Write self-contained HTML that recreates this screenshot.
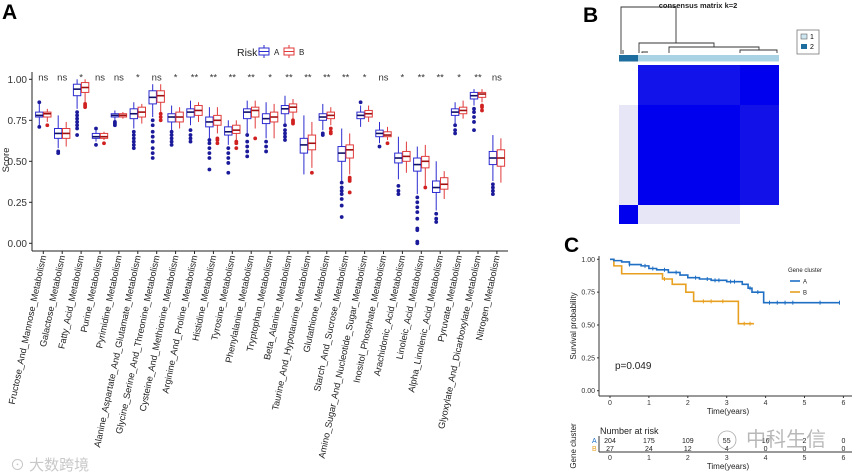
<!DOCTYPE html>
<html><head><meta charset="utf-8">
<style>
html,body{margin:0;padding:0;background:#fff;}
svg{display:block;font-family:"Liberation Sans","Noto Sans CJK SC",sans-serif;}
</style></head>
<body>
<svg id="fig" width="858" height="475" viewBox="0 0 858 475" xmlns="http://www.w3.org/2000/svg">
<g id="panelA">
<text x="2" y="19" font-size="21" font-weight="bold">A</text>
<g>
<text x="237" y="56" font-size="10.5" fill="#222">Risk</text>
<g><line x1="264" y1="45" x2="264" y2="58" stroke="#2b2bd0"/><rect x="259" y="48" width="10" height="7" fill="#fff" stroke="#2b2bd0"/><line x1="259" y1="51.5" x2="269" y2="51.5" stroke="#2b2bd0"/><text x="274" y="55" font-size="8" fill="#222">A</text></g>
<g><line x1="289" y1="45" x2="289" y2="58" stroke="#e03a3a"/><rect x="284" y="48" width="10" height="7" fill="#fff" stroke="#e03a3a"/><line x1="284" y1="51.5" x2="294" y2="51.5" stroke="#e03a3a"/><text x="299" y="55" font-size="8" fill="#222">B</text></g>
</g>
<text transform="translate(9,160) rotate(-90)" font-size="9.5" text-anchor="middle" fill="#222">Score</text>
<g id="aAxes"></g><g id="aMarks"></g>
</g>
<g id="panelB"></g>
<g id="panelC"></g>
<text x="10" y="470" font-size="15" fill="#c8c8c8">⊙ 大数跨境</text>
</svg>
<script>
// ---------- Panel A data ----------
const categories=["Fructose_And_Mannose_Metabolism","Galactose_Metabolism","Fatty_Acid_Metabolism","Purine_Metabolism","Pyrimidine_Metabolism","Alanine_Aspartate_And_Glutamate_Metabolism","Glycine_Serine_And_Threonine_Metabolism","Cysteine_And_Methionine_Metabolism","Arginine_And_Proline_Metabolism","Histidine_Metabolism","Tyrosine_Metabolism","Phenylalanine_Metabolism","Tryptophan_Metabolism","Beta_Alanine_Metabolism","Taurine_And_Hypotaurine_Metabolism","Glutathione_Metabolism","Starch_And_Sucrose_Metabolism","Amino_Sugar_And_Nucleotide_Sugar_Metabolism","Inositol_Phosphate_Metabolism","Arachidonic_Acid_Metabolism","Linoleic_Acid_Metabolism","Alpha_Linolenic_Acid_Metabolism","Pyruvate_Metabolism","Glyoxylate_And_Dicarboxylate_Metabolism","Nitrogen_Metabolism"];
const signif=["ns","ns","*","ns","ns","*","ns","*","**","**","**","**","*","**","**","**","**","*","ns","*","**","**","*","**","ns"];
// [low whisker, q1, median, q3, high whisker]
const statsA=[[.72,.77,.78,.80,.85],[.58,.64,.67,.70,.78],[.82,.90,.94,.97,1.0],[.62,.64,.65,.67,.69],[.75,.77,.78,.79,.81],[.70,.76,.79,.82,.86],[.77,.85,.89,.93,.97],[.69,.74,.77,.79,.84],[.72,.77,.80,.82,.87],[.64,.71,.74,.77,.83],[.60,.66,.68,.71,.75],[.67,.76,.80,.82,.87],[.64,.73,.76,.79,.86],[.73,.79,.82,.84,.90],[.42,.55,.60,.64,.78],[.69,.75,.77,.79,.85],[.38,.50,.55,.59,.70],[.71,.76,.78,.80,.84],[.61,.65,.67,.69,.74],[.39,.49,.52,.55,.65],[.30,.44,.48,.52,.59],[.20,.31,.34,.38,.50],[.73,.78,.80,.82,.86],[.84,.88,.90,.92,.94],[.38,.48,.52,.56,.66]];
const statsB=[[.74,.77,.79,.80,.82],[.59,.64,.67,.70,.74],[.86,.92,.95,.98,1.0],[.63,.64,.65,.67,.68],[.76,.77,.78,.79,.80],[.73,.77,.80,.83,.85],[.80,.86,.90,.93,.97],[.70,.74,.77,.80,.83],[.74,.78,.81,.84,.86],[.67,.72,.75,.78,.83],[.63,.67,.69,.72,.75],[.70,.77,.81,.83,.87],[.64,.74,.77,.80,.85],[.76,.80,.83,.85,.88],[.46,.57,.61,.66,.74],[.72,.76,.78,.80,.83],[.42,.52,.57,.60,.67],[.74,.77,.79,.81,.84],[.63,.65,.66,.68,.71],[.43,.50,.53,.56,.62],[.35,.46,.50,.53,.60],[.27,.33,.36,.40,.44],[.76,.79,.81,.83,.87],[.86,.89,.91,.92,.94],[.37,.47,.52,.57,.64]];
const outA=[[.86,.71],[.56,.55],[.66,.70,.72,.74,.76,.78,.80],[.60,.70],[.72,.73,.74],[.58,.60,.62,.64,.66,.68],[.52,.55,.58,.62,.65,.68,.72,.75],[.60,.62,.64,.66,.68],[.62,.64,.66,.69],[.45,.52,.55,.58,.61,.63],[.43,.49,.52,.55,.58],[.53,.56,.59,.62,.66],[.56,.59,.62],[.63,.65,.67,.69,.72],[],[.66,.67],[.16,.23,.27,.30,.32,.34,.37],[.86],[.59],[.30,.32,.35],[0,.01,.08,.09,.15,.19,.22,.25,.28],[.13,.15,.18],[.67,.69,.72],[.69,.74,.77,.80,.82],[.30,.32,.34,.36]];
const outB=[[.72],[],[.83,.84,.85],[.61],[],[],[.75,.77,.79],[],[],[.61,.63,.64],[.58,.61,.62],[.64],[],[.73,.74,.75],[.43],[.67,.68,.70],[.31,.38,.39,.40],[],[.61],[],[.34],[],[],[.81,.83,.84],[]];
const yTicksA=[0,0.25,0.5,0.75,1.0];
const yTickLabelsA=["0.00","0.25","0.50","0.75","1.00"];

// ---------- Panel C data ----------
const timesA=[0,0.1,0.3,0.5,0.8,1.0,1.2,1.5,1.8,2.0,2.3,2.6,3.0,3.4,3.55,3.65,3.95,5.9];
const survA=[1.0,0.99,0.98,0.96,0.95,0.93,0.92,0.90,0.88,0.86,0.85,0.84,0.83,0.81,0.78,0.75,0.67,0.67];
const timesB=[0,0.1,0.3,1.35,1.6,1.95,2.15,3.3,3.7];
const survB=[1.0,0.95,0.89,0.85,0.81,0.75,0.68,0.51,0.51];
const censorA=[0.5,0.9,1.1,1.4,1.7,2.2,2.5,2.7,2.8,3.1,3.2,3.6,3.8,4.1,4.3,4.5,4.7,5.4,5.9];
const censorB=[1.4,2.4,2.6,2.9,3.45,3.6];
const xTicksC=[0,1,2,3,4,5,6];
const yTicksC=[0,0.25,0.5,0.75,1.0];
const yTickLabelsC=["0.00","0.25","0.50","0.75","1.00"];
const riskA=[204,175,109,55,16,2,0];
const riskB=[27,24,12,4,0,0,0];

const NS="http://www.w3.org/2000/svg";
function mk(parent,tag,attrs,text){const e=document.createElementNS(NS,tag);for(const k in attrs)e.setAttribute(k,attrs[k]);if(text!==undefined)e.textContent=text;parent.appendChild(e);return e;}

// ---------- Panel A draw ----------
const ax=document.getElementById('aAxes'), am=document.getElementById('aMarks');
const yA=v=>243.3-v*164;
const xA=i=>43.3+i*18.9;
let e;
e=mk(ax,'line',{x1:32,y1:72,x2:32,y2:251,stroke:'#222'});


e=mk(ax,'line',{x1:32,y1:251,x2:508,y2:251,stroke:'#222'});


yTicksA.forEach((t,i)=>{
  mk(ax,'line',{x1:29,y1:yA(t),x2:32,y2:yA(t),stroke:'#222'});
  e=mk(ax,'text',{x:27,y:yA(t)+3.5,'font-size':10,'text-anchor':'end',fill:'#333'},yTickLabelsA[i]);
  
  
});
categories.forEach((c,i)=>{
  const x=xA(i);
  mk(ax,'line',{x1:x,y1:251,x2:x,y2:254,stroke:'#222'});
  e=mk(ax,'text',{transform:`translate(${x+3},256) rotate(-78)`,'font-size':9.2,'text-anchor':'end',fill:'#222'},c);
  
  
  e=mk(am,'text',{x:x,y:yA(1.0)+1,'font-size':9.5,'text-anchor':'middle',fill:'#333'},signif[i]);
  
  
  [[statsA,outA,'#2b2bd0','#1a1a9a',-4,'box-a'],[statsB,outB,'#e03a3a','#d02020',4,'box-b']].forEach(([st,ou,col,dot,off,nm])=>{
    const s=st[i], cx=x+off, w=7.4;
    const g=mk(am,'g',{});
    
    
    mk(g,'line',{x1:cx,y1:yA(s[0]),x2:cx,y2:yA(s[4]),stroke:col,'stroke-width':1});
    mk(g,'rect',{x:cx-w/2,y:yA(s[3]),width:w,height:yA(s[1])-yA(s[3]),fill:'#fff',stroke:col,'stroke-width':1});
    mk(g,'line',{x1:cx-w/2,y1:yA(s[2]),x2:cx+w/2,y2:yA(s[2]),stroke:col==='#2b2bd0'?'#10106a':'#a01010','stroke-width':1.6});
    ou[i].forEach(v=>{
      const d=mk(g,'circle',{cx:cx,cy:yA(v),r:1.9,fill:dot});
      
      
    });
  });
});

// ---------- Panel B ----------
const pb=document.getElementById('panelB');
e=mk(pb,'text',{x:583,y:22,'font-size':21,'font-weight':'bold'},'B');


e=mk(pb,'text',{x:698,y:8,'font-size':7.5,'font-weight':'bold','text-anchor':'middle',fill:'#222'},'consensus matrix k=2');


const dend=mk(pb,'path',{d:'M621,54V7H676V43 M639,53V43H714V47 M669,53V47H759V50 M740,53V50H777V53 M623,54V50 M642,53V52H648',fill:'none',stroke:'#333','stroke-width':0.9});


e=mk(pb,'rect',{x:619,y:55,width:19,height:6.5,fill:'#1d6e9e'});


e=mk(pb,'rect',{x:638,y:55,width:141,height:6.5,fill:'#a9d3e5'});


const cells=[[619,105,19,100,'#e6e6f6'],[638,65,102,40,'#1212ea'],[740,65,39,40,'#0000ee'],[638,105,102,100,'#0000ee'],[740,105,39,100,'#1111e8'],[619,205,19,19,'#0000ee'],[638,205,102,19,'#e6e6f6']];
cells.forEach(c=>{e=mk(pb,'rect',{x:c[0],y:c[1],width:c[2],height:c[3],fill:c[4]});

});
const lg=mk(pb,'g',{});


mk(lg,'rect',{x:797,y:30,width:22,height:24,fill:'#fff',stroke:'#666','stroke-width':0.7});
mk(lg,'rect',{x:801,y:34,width:6,height:5,fill:'#cfe6f0',stroke:'#444','stroke-width':0.5});
mk(lg,'rect',{x:801,y:44,width:6,height:5,fill:'#1d6e9e'});
mk(lg,'text',{x:810,y:39,'font-size':7},'1');
mk(lg,'text',{x:810,y:49,'font-size':7},'2');

// ---------- Panel C ----------
const pc=document.getElementById('panelC');
const xC=t=>610+t*38.9, yC=v=>390.7-v*131.4;
e=mk(pc,'text',{x:564,y:252,'font-size':21,'font-weight':'bold'},'C');


mk(pc,'line',{x1:599,y1:256,x2:599,y2:396,stroke:'#333'});
mk(pc,'line',{x1:599,y1:396,x2:852,y2:396,stroke:'#333'});
yTicksC.forEach((t,i)=>{mk(pc,'line',{x1:597,y1:yC(t),x2:599,y2:yC(t),stroke:'#333'});
e=mk(pc,'text',{x:595,y:yC(t)+2.5,'font-size':7,'text-anchor':'end',fill:'#333'},yTickLabelsC[i]);

});
xTicksC.forEach(t=>{mk(pc,'line',{x1:xC(t),y1:396,x2:xC(t),y2:398,stroke:'#333'});
e=mk(pc,'text',{x:xC(t),y:405,'font-size':7,'text-anchor':'middle',fill:'#333'},String(t));

});
e=mk(pc,'text',{x:728,y:414,'font-size':8,'text-anchor':'middle',fill:'#222'},'Time(years)');


e=mk(pc,'text',{transform:'translate(576,326) rotate(-90)','font-size':8,'text-anchor':'middle',fill:'#222'},'Survival probability');


e=mk(pc,'text',{x:615,y:369,'font-size':10,fill:'#222'},'p=0.049');


function stepPath(ts,ss){let d=`M${xC(ts[0])},${yC(ss[0])}`;for(let i=1;i<ts.length;i++){d+=`H${xC(ts[i])}V${yC(ss[i])}`;}return d;}
function survAt(ts,ss,t){let v=ss[0];for(let i=0;i<ts.length;i++){if(ts[i]<=t)v=ss[i];}return v;}
[[timesB,survB,censorB,'#e8a020','curve-b'],[timesA,survA,censorA,'#1f6fc4','curve-a']].forEach(([ts,ss,cs,col,nm])=>{
  e=mk(pc,'path',{d:stepPath(ts,ss),fill:'none',stroke:col,'stroke-width':1.6});
  
  
  cs.forEach(t=>{const y=yC(survAt(ts,ss,t));
    const c=mk(pc,'line',{x1:xC(t),y1:y-2,x2:xC(t),y2:y+2,stroke:col,'stroke-width':1});
    
    });
});
const lc=mk(pc,'g',{});


mk(lc,'text',{x:788,y:272,'font-size':6,fill:'#222'},'Gene cluster');
mk(lc,'line',{x1:790,y1:281,x2:800,y2:281,stroke:'#1f6fc4','stroke-width':1.6});
mk(lc,'text',{x:803,y:283.5,'font-size':6,fill:'#222'},'A');
mk(lc,'line',{x1:790,y1:292,x2:800,y2:292,stroke:'#e8a020','stroke-width':1.6});
mk(lc,'text',{x:803,y:294.5,'font-size':6,fill:'#222'},'B');
// risk table
e=mk(pc,'text',{x:600,y:434,'font-size':9,fill:'#222'},'Number at risk');


mk(pc,'text',{x:592,y:443,'font-size':7,fill:'#1f6fc4'},'A');
mk(pc,'text',{x:592,y:451,'font-size':7,fill:'#e8a020'},'B');
mk(pc,'line',{x1:599,y1:436,x2:599,y2:452,stroke:'#333'});
mk(pc,'line',{x1:599,y1:452,x2:852,y2:452,stroke:'#333'});
xTicksC.forEach((t,i)=>{
  e=mk(pc,'text',{x:xC(t),y:443,'font-size':7,'text-anchor':'middle',fill:'#222'},String(riskA[i]));
  
  
  e=mk(pc,'text',{x:xC(t),y:451,'font-size':7,'text-anchor':'middle',fill:'#222'},String(riskB[i]));
  
  
  mk(pc,'text',{x:xC(t),y:460,'font-size':7,'text-anchor':'middle',fill:'#333'},String(t));
});
mk(pc,'text',{x:728,y:469,'font-size':8,'text-anchor':'middle',fill:'#222'},'Time(years)');
mk(pc,'text',{transform:'translate(576,446) rotate(-90)','font-size':8,'text-anchor':'middle',fill:'#222'},'Gene cluster');
e=mk(pc,'text',{x:746,y:446,'font-size':20,fill:'#9a9a9a','fill-opacity':0.7},'中科生信');


mk(pc,'circle',{cx:727,cy:440,r:9,fill:'none',stroke:'#aaa','stroke-width':0.8});
</script>
</body></html>
